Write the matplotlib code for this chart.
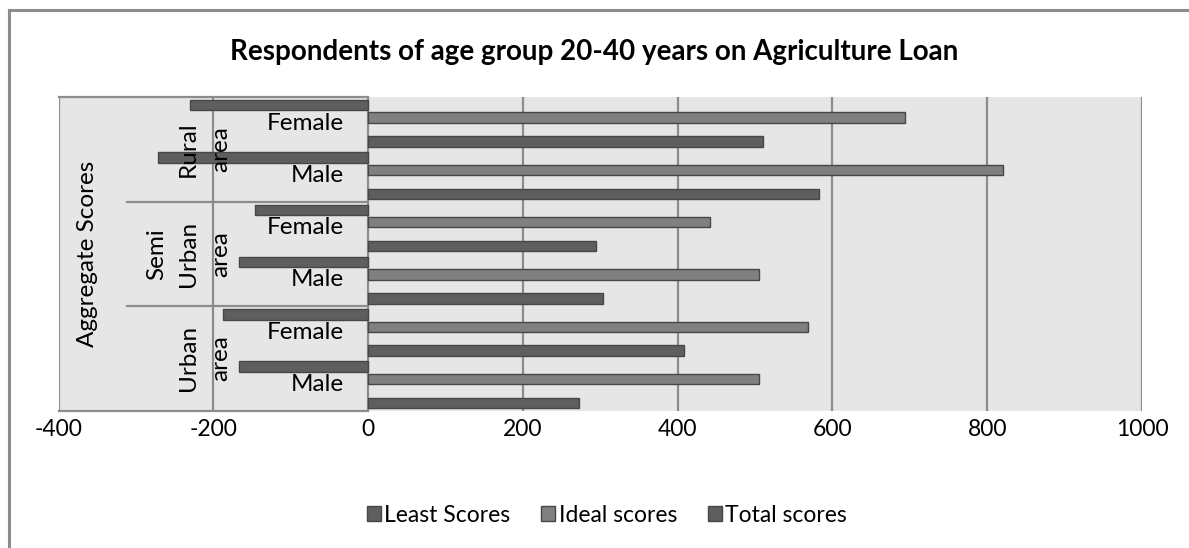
import matplotlib
matplotlib.use("Agg")
import matplotlib.pyplot as plt
from matplotlib.patches import Rectangle
from matplotlib.lines import Line2D

plt.rcParams['font.family'] = ['Lato', 'DejaVu Sans']

# Categories from bottom to top
areas = ["Urban\narea", "Semi\nUrban\narea", "Rural\narea"]
genders = ["Male", "Female", "Male", "Female", "Male", "Female"]
least_scores = [-167, -188, -167, -146, -272, -230]
ideal_scores = [505, 568, 505, 442, 820, 694]
total_scores = [273, 408, 303, 294, 583, 510]

series_names = ["Least Scores", "Ideal scores", "Total scores"]
xticks = [-400, -200, 0, 200, 400, 600, 800, 1000]
title = "Respondents of age group 20-40 years on Agriculture Loan"

dark = "#5e5e5e"
mid = "#808080"
edge = "#474747"
grid_c = "#8c8c8c"
bg = "#e6e6e6"

W, H = 1189, 548
fig = plt.figure(figsize=(W / 100, H / 100), dpi=100)
fig.patch.set_facecolor("white")

# outer chart border (top and left edges)
fig.add_artist(Line2D([9 / W, 9 / W], [0, 1 - 10 / H], transform=fig.transFigure,
                      color=grid_c, lw=2.2))
fig.add_artist(Line2D([9 / W, 1], [1 - 10 / H, 1 - 10 / H], transform=fig.transFigure,
                      color=grid_c, lw=2.2))

left, right = 58.5, 1142
top, bottom = 97, 410.7
ax = fig.add_axes([left / W, 1 - bottom / H, (right - left) / W, (bottom - top) / H])
ax.set_facecolor(bg)
ax.set_xlim(-400, 1000)
ax.set_ylim(0, 6)
for s in ax.spines.values():
    s.set_visible(False)

# vertical gridlines
for v in xticks:
    ax.axvline(v, color=grid_c, lw=1.6, zorder=1)

# label box borders on the negative side
ax.plot([-400, 0], [6, 6], color=grid_c, lw=1.6, zorder=1, clip_on=False)
ax.plot([-400, 0], [0, 0], color=grid_c, lw=1.6, zorder=1, clip_on=False)
for yb in (2, 4):
    ax.plot([-312, 0], [yb, yb], color=grid_c, lw=1.6, zorder=1)

n = len(genders)
h = 0.2
for i in range(n):
    ax.barh(i + 1 - 0.157, least_scores[i], height=h, color=dark, edgecolor=edge,
            lw=1.0, zorder=3)
    ax.barh(i + 1 - 0.395, ideal_scores[i], height=h, color=mid, edgecolor=edge,
            lw=1.0, zorder=3)
    ax.barh(i + 1 - 0.851, total_scores[i], height=h, color=dark, edgecolor=edge,
            lw=1.0, zorder=3)

fs = 17.5
for i, g in enumerate(genders):
    ax.text(-31, i + 0.5, g, ha="right", va="center", fontsize=fs, color="black", zorder=4)

for k, a in enumerate(areas):
    ax.text(-177, 2 * k + 1, a, rotation=90, ha="right", va="center",
            multialignment="center", fontsize=fs, linespacing=1.65, color="black", zorder=4)

ax.text(-362, 3, "Aggregate Scores", rotation=90, ha="center", va="center",
        fontsize=fs, color="black", zorder=4)

ax.set_yticks([])
ax.set_xticks(xticks)
ax.set_xticklabels([str(v) for v in xticks], fontsize=16.5)
ax.tick_params(axis="x", length=0, pad=6)

fig.text(0.5, 1 - 52 / H, title, ha="center", va="center", fontsize=20,
         fontweight="bold", color="black")

handles = [Rectangle((0, 0), 1, 1, facecolor=c, edgecolor=edge, lw=1.0)
           for c in (dark, mid, dark)]
fig.legend(handles, series_names, loc="center", bbox_to_anchor=(607 / W, 1 - 515 / H),
           ncol=3, frameon=False, fontsize=16.5, handlelength=0.6, handleheight=0.6,
           handletextpad=0.15, columnspacing=1.35)

fig.savefig("out.png", dpi=100, facecolor="white")
